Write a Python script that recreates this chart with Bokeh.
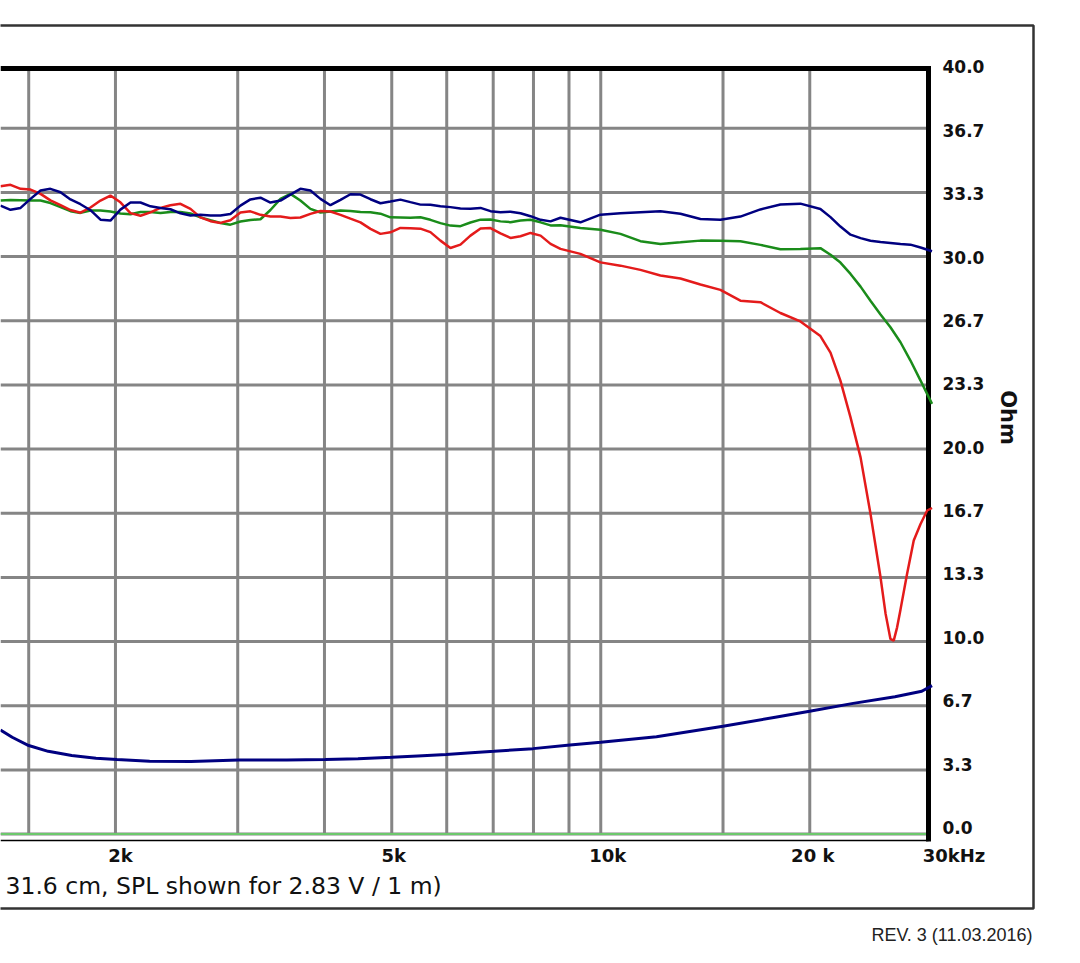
import math
from bokeh.plotting import figure
from bokeh.models import Range1d, Label, BoxAnnotation, ColumnDataSource
from bokeh.core.properties import value
from bokeh.embed import file_html
from bokeh.resources import INLINE

# ---------------- data ----------------
FREQ_COMMON = [1366, 1412, 1460, 1509, 1560, 1612, 1667, 1723, 1781, 1841,
               1903, 1967, 2033, 2102, 2173, 2246, 2322, 2400, 2481, 2565,
               2651, 2741, 2833, 2928, 3027, 3129, 3235, 3344, 3457, 3573,
               3693, 3818, 3947, 4080, 4218, 4360, 4507, 4659, 4816, 4978,
               5146, 5319, 5499, 5684, 5876, 6074, 6279, 6491, 6712, 6937,
               7171, 7413, 7663, 7922, 8191, 8466, 8749,
               9348, 9989, 10674, 11406, 12188, 13024, 13917, 14871, 15890,
               16980, 18144, 19389, 20718]
FREQ_TAIL = [21423, 22140, 22895, 23670, 24460, 25290, 26136, 27020, 27930, 28880, 30000]
FREQ_TAIL_RED = [21423, 22140, 22895, 23670, 24460, 25290, 25720, 26136, 26421, 26720,
                 27020, 27620, 28235, 28880, 29520, 30000]

SPL_RED = [33.65, 33.73, 33.52, 33.48, 33.26, 32.92, 32.67, 32.42, 32.28, 32.55,
           32.91, 33.17, 32.82, 32.26, 32.12, 32.30, 32.53, 32.67, 32.74, 32.48,
           32.04, 31.84, 31.75, 31.89, 32.29, 32.35, 32.17, 32.08, 32.08, 32.01,
           32.03, 32.22, 32.37, 32.34, 32.17, 31.97, 31.78, 31.44, 31.18, 31.26,
           31.49, 31.47, 31.45, 31.27, 30.83, 30.45, 30.62, 31.09, 31.46, 31.48,
           31.21, 30.97, 31.06, 31.23, 31.09, 30.66, 30.40,
           30.14, 29.70, 29.53, 29.31, 29.02, 28.86, 28.55, 28.27, 27.71, 27.63,
           27.07, 26.63, 25.87,
           25.01, 23.56, 21.65, 19.57, 16.65, 13.34, 11.44, 10.14, 10.05, 10.74,
           11.66, 13.52, 15.25, 16.11, 16.81, 16.94]

SPL_GREEN = [32.91, 32.94, 32.93, 32.91, 32.91, 32.78, 32.57, 32.36, 32.27, 32.39,
             32.39, 32.34, 32.24, 32.20, 32.32, 32.32, 32.27, 32.32, 32.32, 32.24,
             32.04, 31.89, 31.75, 31.66, 31.82, 31.90, 31.94, 32.42, 33.00, 33.26,
             32.91, 32.48, 32.29, 32.34, 32.39, 32.37, 32.32, 32.30, 32.23, 32.04,
             32.03, 32.02, 32.04, 31.91, 31.74, 31.61, 31.58, 31.77, 31.92, 31.93,
             31.83, 31.79, 31.87, 31.91, 31.78, 31.62, 31.63,
             31.49, 31.39, 31.18, 30.80, 30.66, 30.74, 30.83, 30.82, 30.80, 30.61,
             30.38, 30.40, 30.44,
             30.10, 29.69, 29.10, 28.44, 27.71, 26.99, 26.33, 25.55, 24.60, 23.56, 22.35]

SPL_NAVY = [32.65, 32.43, 32.53, 33.00, 33.43, 33.52, 33.34, 32.97, 32.72, 32.41,
            31.92, 31.87, 32.44, 32.81, 32.81, 32.61, 32.53, 32.46, 32.25, 32.14,
            32.17, 32.14, 32.13, 32.21, 32.65, 32.97, 33.06, 32.81, 32.91, 33.22,
            33.52, 33.43, 33.00, 32.67, 32.95, 33.24, 33.22, 32.98, 32.77, 32.86,
            32.96, 32.83, 32.70, 32.69, 32.62, 32.57, 32.50, 32.49, 32.53, 32.36,
            32.31, 32.33, 32.25, 32.10, 31.91, 31.83, 32.02,
            31.78, 32.18, 32.25, 32.30, 32.35, 32.23, 31.95, 31.92, 32.08, 32.45,
            32.71, 32.75, 32.47,
            32.05, 31.56, 31.14, 30.96, 30.82, 30.76, 30.71, 30.66, 30.62, 30.47, 30.28]

Z_FREQ = [1366, 1420, 1500, 1600, 1730, 1875, 2010, 2240, 2570, 3010, 3530, 4010,
          4470, 5000, 5450, 5990, 6510, 7020, 7990, 9030, 10000, 12030, 15000,
          17840, 19990, 23100, 26530, 29000, 30000]
Z_OHM = [5.41, 5.03, 4.60, 4.30, 4.08, 3.94, 3.87, 3.78, 3.77, 3.85, 3.85, 3.87,
         3.92, 3.99, 4.06, 4.13, 4.23, 4.30, 4.44, 4.63, 4.77, 5.06, 5.60,
         6.07, 6.38, 6.79, 7.14, 7.42, 7.71]

F_MIN, F_MAX = 1366, 30000
GRID_FREQS = [1500, 2000, 3000, 4000, 5000, 6000, 7000, 8000, 9000, 10000, 15000, 20000]
XLABEL_FREQS = [2000, 5000, 10000, 20000, 30000]
XLABEL_TEXT = ["2k", "5k", "10k", "20 k", "30kHz"]
OHM_TICKS = [0.0, 3.333, 6.667, 10.0, 13.333, 16.667, 20.0, 23.333, 26.667, 30.0,
             33.333, 36.667, 40.0]
OHM_LABELS = ["0.0", "3.3", "6.7", "10.0", "13.3", "16.7", "20.0", "23.3", "26.7",
              "30.0", "33.3", "36.7", "40.0"]
Y_TITLE = "Ohm"
CAPTION = "31.6 cm, SPL shown for 2.83 V / 1 m)"
REVISION = "REV. 3 (11.03.2016)"

# ---------------- layout / styling ----------------
W, H = 1080, 963
PX_PER_DECADE = 694.3
PX_PER_OHM = 19.25
ZERO_PX = 833.6
FONT = "DejaVu Sans"
GRID_C = "#858585"
XLABEL_NUDGE = [5, 2, 7, 3, 22]                                   # px
YLABEL_NUDGE = [round(-6.6 + 0.775 * i, 1) for i in range(len(OHM_TICKS))]  # px


def fx(px):
    """canvas column (px) -> frequency, used to place decorations"""
    return F_MIN * 10 ** (px / PX_PER_DECADE)


def fy(py):
    """canvas row (px) -> ohm, used to place decorations"""
    return (ZERO_PX - py) / PX_PER_OHM


p = figure(width=W, height=H, x_axis_type="log",
           x_range=Range1d(fx(0), fx(W)), y_range=Range1d(fy(H), fy(0)),
           x_axis_location=None, y_axis_location=None, min_border=0,
           output_backend="svg", toolbar_location=None,
           background_fill_color="white", border_fill_color="white")
p.outline_line_color = None
p.grid.visible = False

X_EDGE = fx(928)   # right border of the plotting area
inner_ticks = OHM_TICKS[:-1]

# grid lines
p.segment(x0=GRID_FREQS, y0=[0] * len(GRID_FREQS), x1=GRID_FREQS,
          y1=[fy(68)] * len(GRID_FREQS), line_color=GRID_C, line_width=3)
p.segment(x0=[F_MIN] * len(inner_ticks), y0=inner_ticks, x1=[X_EDGE] * len(inner_ticks),
          y1=inner_ticks, line_color=GRID_C, line_width=3)

# zero line, bottom axis line, top & right thick borders
p.segment(x0=[F_MIN], y0=[0], x1=[X_EDGE], y1=[0], line_color="#6cc86c", line_width=2)
p.segment(x0=[F_MIN], y0=[fy(840)], x1=[X_EDGE], y1=[fy(840)], line_color="black", line_width=1.6)
p.segment(x0=[F_MIN], y0=[fy(68)], x1=[fx(930.5)], y1=[fy(68)], line_color="black", line_width=5)
p.segment(x0=[X_EDGE], y0=[fy(841)], x1=[X_EDGE], y1=[fy(65.5)], line_color="black", line_width=5)

# curves
p.line(Z_FREQ, Z_OHM, line_color="#000080", line_width=3)
p.line(FREQ_COMMON + FREQ_TAIL, SPL_GREEN, line_color="#1a8c1a", line_width=2.5)
p.line(FREQ_COMMON + FREQ_TAIL_RED, SPL_RED, line_color="#e41b1b", line_width=2.5)
p.line(FREQ_COMMON + FREQ_TAIL, SPL_NAVY, line_color="#000080", line_width=2.5)

# outer box
p.add_layout(BoxAnnotation(left=fx(-40), right=fx(1033), top=fy(25), bottom=fy(908),
                           fill_alpha=0, line_color="#333333", line_alpha=1.0,
                           line_width=2.5))

# right tick labels (Ohm)
ysrc = ColumnDataSource(dict(x=[fx(942)] * len(OHM_TICKS), y=OHM_TICKS, t=OHM_LABELS,
                             dy=YLABEL_NUDGE))
p.text(x="x", y="y", text="t", y_offset="dy", source=ysrc, text_font=value(FONT),
       text_font_style="bold", text_font_size=value("17px"), text_color="#111111",
       text_align="left", text_baseline="middle")

# bottom tick labels (frequency)
xsrc = ColumnDataSource(dict(x=XLABEL_FREQS, y=[fy(855)] * len(XLABEL_FREQS),
                             t=XLABEL_TEXT, dx=XLABEL_NUDGE))
p.text(x="x", y="y", text="t", x_offset="dx", source=xsrc, text_font=value(FONT),
       text_font_style="bold", text_font_size=value("18px"), text_color="#111111",
       text_align="center", text_baseline="middle")

# other texts
p.add_layout(Label(x=fx(1007), y=fy(417), text=Y_TITLE, angle=-math.pi / 2,
                   text_align="center", text_baseline="middle", text_font=FONT,
                   text_font_style="bold", text_font_size="21px", text_color="#111111"))
p.add_layout(Label(x=fx(5), y=fy(885), text=CAPTION, text_align="left",
                   text_baseline="middle", text_font=FONT, text_font_size="23.5px",
                   text_color="#111111"))
p.add_layout(Label(x=fx(1032), y=fy(934), text=REVISION, text_align="right",
                   text_baseline="middle", text_font="Liberation Sans",
                   text_font_size="18px", text_color="#222222"))

open("out.html", "w").write(file_html(p, INLINE))
